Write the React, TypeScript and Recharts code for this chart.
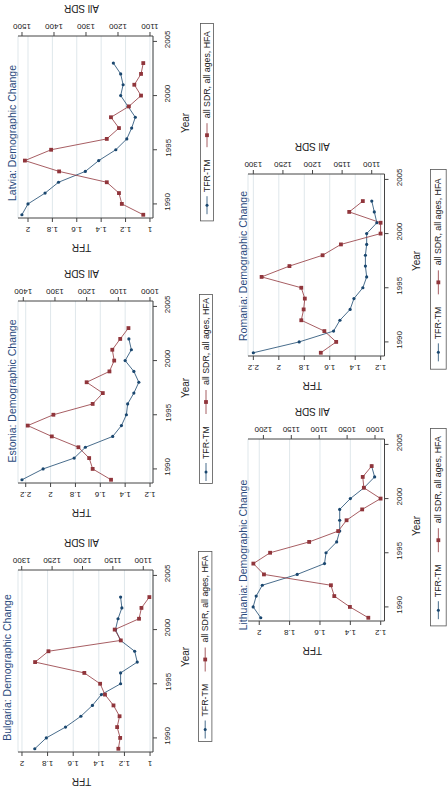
import React from "react";
import { LineChart, Line, XAxis, YAxis, CartesianGrid, Legend } from "recharts";

const FONT = "'Liberation Sans', Arial, Helvetica, sans-serif";
const BLUE = "#1a476f";
const RED = "#90353b";
const INK = "#222";

const years = [1989, 1990, 1991, 1992, 1993, 1994, 1995, 1996, 1997, 1998, 1999, 2000, 2001, 2002, 2003];
const yearTicks = [1990, 1995, 2000, 2005];

const latviaTfr = [2.05, 2.0, 1.86, 1.75, 1.53, 1.42, 1.28, 1.19, 1.15, 1.12, 1.18, 1.24, 1.22, 1.24, 1.3];
const latviaSdr = [1121, 1188, 1197, 1235, 1384, 1491, 1409, 1235, 1197, 1222, 1166, 1128, 1149, 1128, 1121];

const estoniaTfr = [2.23, 2.06, 1.81, 1.72, 1.5, 1.43, 1.39, 1.38, 1.33, 1.29, 1.33, 1.4, 1.35, 1.37, null];
const estoniaSdr = [1123, 1181, 1192, 1226, 1310, 1386, 1305, 1181, 1149, 1200, 1128, 1113, 1119, 1094, 1068];

const bulgariaTfr = [1.9, 1.81, 1.66, 1.54, 1.45, 1.38, 1.23, 1.23, 1.1, 1.12, 1.23, 1.27, 1.25, 1.22, 1.23];
const bulgariaSdr = [1141, 1138, 1143, 1139, 1149, 1163, 1171, 1197, 1278, 1256, 1137, 1147, 1107, 1103, 1090];

const romaniaTfr = [2.2, 1.84, 1.57, 1.52, 1.44, 1.41, 1.34, 1.31, 1.32, 1.32, 1.31, 1.31, 1.23, 1.25, 1.27];
const romaniaSdr = [1186, 1160, 1180, 1219, 1215, 1213, 1219, 1286, 1239, 1183, 1152, 1085, 1085, 1138, 1115];

const lithuaniaTfr = [1.99, 2.04, 2.02, 1.98, 1.75, 1.57, 1.56, 1.49, 1.47, 1.47, 1.47, 1.4, 1.31, 1.24, 1.26];
const lithuaniaSdr = [1012, 1045, 1073, 1079, 1199, 1218, 1188, 1118, 1066, 1051, 1023, 990, 1020, 1022, 1006];

// chart-local geometry
const TOP = 36;
const PLOT_H = 182;
const BOT = TOP + PLOT_H;
const CH = BOT + 40;

type Panel = {
  title: string;
  tfr: (number | null)[];
  sdr: number[];
  x: number;
  w: number;
  r: number;
  t: number;
  tfrDomain: [number, number];
  tfrTicks: number[];
  sdrDomain: [number, number];
  sdrTicks: number[];
  titleAt: [number, number];
  legendBox: [number, number, number, number];
};

const panels: Panel[] = [
  {
    title: "Latvia: Demographic Change", tfr: latviaTfr, sdr: latviaSdr,
    x: 0, w: 230, r: 153, t: 35.5,
    tfrDomain: [0.975, 2.082], tfrTicks: [1, 1.2, 1.4, 1.6, 1.8, 2],
    sdrDomain: [1090.6, 1512.5], sdrTicks: [1100, 1200, 1300, 1400, 1500],
    titleAt: [12, 133], legendBox: [200, 23.3, 14, 198.4],
  },
  {
    title: "Estonia: Demographic Change", tfr: estoniaTfr, sdr: estoniaSdr,
    x: 0, w: 230, r: 153, t: 301.3,
    tfrDomain: [1.176, 2.262], tfrTicks: [1.2, 1.4, 1.6, 1.8, 2, 2.2],
    sdrDomain: [990.5, 1416.7], sdrTicks: [1000, 1100, 1200, 1300, 1400],
    titleAt: [11.5, 391], legendBox: [199.3, 294, 14, 190],
  },
  {
    title: "Bulgaria: Demographic Change", tfr: bulgariaTfr, sdr: bulgariaSdr,
    x: 0, w: 230, r: 153, t: 570.3,
    tfrDomain: [0.977, 2.031], tfrTicks: [1, 1.2, 1.4, 1.6, 1.8, 2],
    sdrDomain: [1084, 1306.1], sdrTicks: [1100, 1150, 1200, 1250, 1300],
    titleAt: [7, 667.5], legendBox: [198.3, 550.7, 14.4, 191],
  },
  {
    title: "Romania: Demographic Change", tfr: romaniaTfr, sdr: romaniaSdr,
    x: 230, w: 217, r: 154.5, t: 173.5,
    tfrDomain: [1.17, 2.242], tfrTicks: [1.2, 1.4, 1.6, 1.8, 2, 2.2],
    sdrDomain: [1078.4, 1309], sdrTicks: [1100, 1150, 1200, 1250, 1300],
    titleAt: [242.5, 266], legendBox: [430, 169.3, 16.7, 200.7],
  },
  {
    title: "Lithuania: Demographic Change", tfr: lithuaniaTfr, sdr: lithuaniaSdr,
    x: 230, w: 217, r: 154.5, t: 439,
    tfrDomain: [1.175, 2.074], tfrTicks: [1.2, 1.4, 1.6, 1.8, 2],
    sdrDomain: [983, 1227.6], sdrTicks: [1000, 1050, 1100, 1150, 1200],
    titleAt: [242.5, 555], legendBox: [430, 428.3, 16.7, 198.4],
  },
];

const flipText = (x: number, y: number, angle: number, label: string, size: number, fill = INK) => (
  <text
    x={x}
    y={y}
    transform={`rotate(${angle} ${x} ${y})`}
    textAnchor="middle"
    dominantBaseline="central"
    fontSize={size}
    fontFamily={FONT}
    fill={fill}
  >
    {label}
  </text>
);

const blueDot = (p: any) => {
  if (p.cx == null || p.cy == null || p.value == null) return <g key={p.key} />;
  return <circle key={p.key} cx={p.cx} cy={p.cy} r={1.6} fill={BLUE} />;
};

const redDot = (p: any) => {
  if (p.cx == null || p.cy == null) return <g key={p.key} />;
  return <rect key={p.key} x={p.cx - 1.9} y={p.cy - 1.9} width={3.8} height={3.8} fill={RED} />;
};

const legendContent = (w: number, h: number) => (props: any) => {
  const items = props.payload || [];
  const cx = w / 2;
  const base = h - (h - 190) / 2;
  // offsets measured from the bottom edge of the box
  const slots = [
    { s0: 3, s1: 21, t: 25 },
    { s0: 70, s1: 94, t: 99 },
  ];
  return (
    <svg width={w} height={h} style={{ display: "block", overflow: "visible" }}>
      <rect x={0.5} y={0.5} width={w - 1} height={h - 1} fill="#fff" stroke="#555" strokeWidth={0.8} />
      {items.map((it: any, i: number) => {
        const sl = slots[i] || slots[0];
        const y0 = base - sl.s0;
        const y1 = base - sl.s1;
        const my = (y0 + y1) / 2;
        const ty = base - sl.t;
        return (
          <g key={i}>
            <line x1={cx} x2={cx} y1={y0} y2={y1} stroke={it.color} strokeWidth={0.8} />
            {it.dataKey === "tfr" ? (
              <circle cx={cx} cy={my} r={1.5} fill={it.color} />
            ) : (
              <rect x={cx - 1.9} y={my - 1.9} width={3.8} height={3.8} fill={it.color} />
            )}
            <text
              x={cx}
              y={ty}
              transform={`rotate(-90 ${cx} ${ty})`}
              textAnchor="start"
              dominantBaseline="central"
              fontSize={8.8}
              fontFamily={FONT}
              fill={INK}
            >
              {it.value}
            </text>
          </g>
        );
      })}
    </svg>
  );
};

function PanelChart({ p }: { p: Panel }) {
  const rows = years.map((year, i) => ({ year, tfr: p.tfr[i], sdr: p.sdr[i] }));
  const top = p.t - TOP;
  const mid = (18 + p.r) / 2 - 4;
  const ymid = TOP + PLOT_H / 2 - 4;
  const [lx, ly, lw, lh] = p.legendBox;

  return (
    <div style={{ position: "absolute", left: p.x, top, width: p.w, height: CH }}>
      <LineChart
        layout="vertical"
        width={p.w}
        height={CH}
        data={rows}
        margin={{ top: 0, right: 0, bottom: 0, left: 18 }}
      >
        <CartesianGrid xAxisId="tfr" yAxisId="yr" horizontal={false} stroke="#dfe7eb" strokeWidth={1} />
        <XAxis
          xAxisId="tfr"
          type="number"
          orientation="bottom"
          reversed
          domain={p.tfrDomain}
          allowDataOverflow
          ticks={p.tfrTicks}
          interval={0}
          height={40}
          tickSize={4}
          stroke="#444"
          tick={(t: any) => flipText(t.x, BOT + 11, 180, String(t.payload.value), 8)}
          label={() => flipText(mid, BOT + 29, 180, "TFR", 10)}
        />
        <XAxis
          xAxisId="sdr"
          type="number"
          orientation="top"
          reversed
          domain={p.sdrDomain}
          allowDataOverflow
          ticks={p.sdrTicks}
          interval={0}
          height={TOP}
          tickSize={4}
          stroke="#444"
          tick={(t: any) => flipText(t.x, TOP - 10, 180, String(t.payload.value), 8)}
          label={() => flipText(mid, TOP - 28, 180, "All SDR", 10)}
        />
        <YAxis
          yAxisId="yr"
          type="number"
          dataKey="year"
          orientation="right"
          reversed
          domain={[1988.7, 2005.5]}
          allowDataOverflow
          ticks={yearTicks}
          interval={0}
          width={p.w - p.r}
          tickSize={4}
          stroke="#444"
          tick={(t: any) => flipText(p.r + 15, t.y - 2, -90, String(t.payload.value), 8)}
          label={() => flipText(p.r + 32, ymid, -90, "Year", 10)}
        />
        <Line
          xAxisId="tfr"
          yAxisId="yr"
          dataKey="tfr"
          name="TFR-TM"
          stroke={BLUE}
          strokeWidth={0.8}
          dot={blueDot}
          isAnimationActive={false}
        />
        <Line
          xAxisId="sdr"
          yAxisId="yr"
          dataKey="sdr"
          name="all SDR, all ages, HFA"
          stroke={RED}
          strokeWidth={0.8}
          dot={redDot}
          isAnimationActive={false}
        />
        <Legend
          layout="vertical"
          align="center"
          verticalAlign="middle"
          content={legendContent(lw, lh)}
          wrapperStyle={{ left: lx - p.x, top: ly - top, width: lw, height: lh, lineHeight: 0 }}
        />
      </LineChart>
    </div>
  );
}

export default function App() {
  return (
    <div
      style={{
        position: "absolute",
        left: 0,
        top: 0,
        width: 447,
        height: 788,
        overflow: "hidden",
        background: "#fff",
      }}
    >
      <svg width={447} height={788} style={{ position: "absolute", left: 0, top: 0 }}>
        {panels.map((p) => (
          <g key={p.title}>{flipText(p.titleAt[0], p.titleAt[1], -90, p.title, 10.5, "#2b4b7e")}</g>
        ))}
      </svg>
      {panels.map((p) => (
        <PanelChart key={p.title} p={p} />
      ))}
    </div>
  );
}
